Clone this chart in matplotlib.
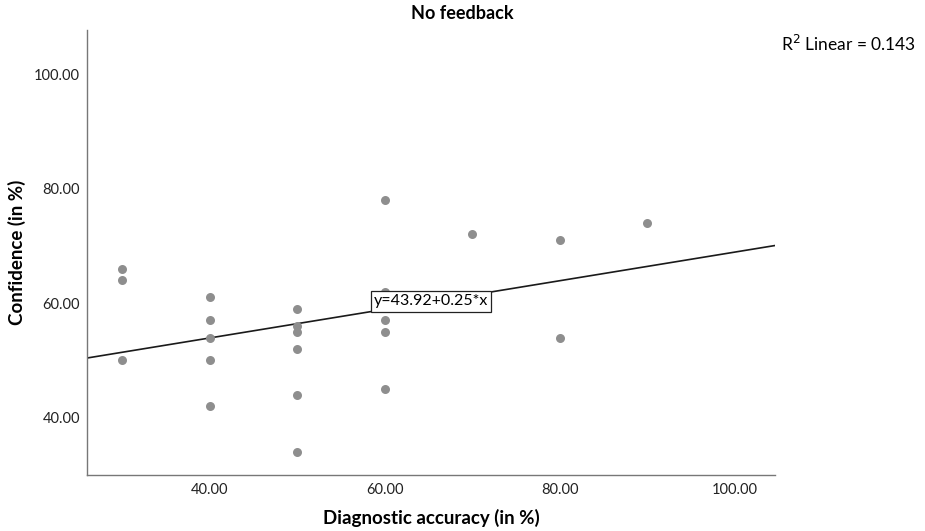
import numpy as np
import matplotlib
matplotlib.use("Agg")
import matplotlib.pyplot as plt

plt.rcParams['font.family'] = ['Lato', 'DejaVu Sans']

# diagnostic accuracy (%) and confidence (%) per participant
accuracy = [30, 30, 30,
            40, 40, 40, 40, 40,
            50, 50, 50, 50, 50, 50,
            60, 60, 60, 60, 60,
            70,
            80, 80,
            90]
confidence = [66, 64, 50,
              61, 57, 54, 50, 42,
              59, 56, 55, 52, 44, 34,
              78, 62, 57, 55, 45,
              72,
              71, 54,
              74]
intercept = 43.92
slope = 0.25
r2 = 0.143

fig = plt.figure(figsize=(9.25, 5.31), dpi=100)
ax = fig.add_axes([0.094, 0.1055, 0.744, 0.838])

xmin, xmax = 26, 104.6
ax.scatter(accuracy, confidence, s=42, color='#8e8e8e', zorder=3, linewidths=0)
xs = np.array([xmin, xmax])
ax.plot(xs, intercept + slope * xs, color='#1a1a1a', lw=1.2, zorder=2)

ax.text(65.3, 60.3, f"y={intercept:.2f}+{slope:.2f}*x", ha='center', va='center',
        fontsize=11.5, zorder=5,
        bbox=dict(boxstyle='square,pad=0.2', fc='white', ec='#222222', lw=0.9))

ax.set_xlim(xmin, xmax)
ax.set_ylim(30, 107.7)
ax.set_xticks([40, 60, 80, 100])
ax.set_yticks([40, 60, 80, 100])
ax.set_xticklabels(['40.00', '60.00', '80.00', '100.00'])
ax.set_yticklabels(['40.00', '60.00', '80.00', '100.00'])
ax.tick_params(length=0, labelsize=10.5, colors='#222222')
ax.tick_params(axis='x', pad=6)
ax.tick_params(axis='y', pad=5)
for s in ['top', 'right']:
    ax.spines[s].set_visible(False)
for s in ['left', 'bottom']:
    ax.spines[s].set_color('#777777')
    ax.spines[s].set_linewidth(1.0)

ax.set_xlabel('Diagnostic accuracy (in %)', fontsize=13.5, fontweight='bold', va='center')
ax.set_ylabel('Confidence (in %)', fontsize=13.5, fontweight='bold', va='center')
ax.xaxis.set_label_coords(0.5, -0.097)
ax.yaxis.set_label_coords(-0.102, 0.5)

fig.text(0.5, 0.974, 'No feedback', ha='center', va='center', fontsize=13, fontweight='bold')
fig.text(0.99, 0.918, r'R$^2$ Linear = ' + f"{r2:.3f}", ha='right', va='center', fontsize=12.5)

fig.savefig('out.png', dpi=100)
